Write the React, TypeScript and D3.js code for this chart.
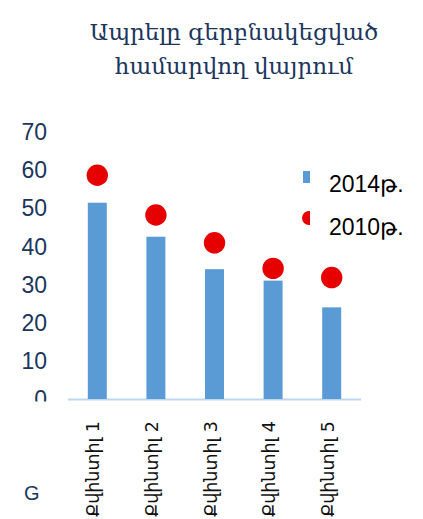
import React from "react";
import * as d3 from "d3";

const titleLines = ["Ապրելը գերբնակեցված", "համարվող վայրում"];
const categories = ["Քվինտիլ 1", "Քվինտիլ 2", "Քվինտիլ 3", "Քվինտիլ 4", "Քվինտիլ 5"];
const values2014 = [51.4, 42.5, 34.0, 31.0, 24.0];
const values2010 = [58.6, 48.2, 40.9, 34.2, 31.8];
const yTicks = [0, 10, 20, 30, 40, 50, 60, 70];
const seriesNames = ["2014թ.", "2010թ."];

const W = 423;
const H = 519;
const NAVY = "#1b365d";
const BLUE = "#5b9bd5";
const RED = "#e60000";

export default function App() {
  const x = d3.scaleBand<string>().domain(categories).range([68, 361]).paddingInner(0.676).paddingOuter(0.338);
  const y = d3.scaleLinear().domain([0, 70]).range([399, 131.7]);
  const bw = x.bandwidth();

  return (
    <svg width={W} height={H} style={{ position: "absolute", left: 0, top: 0, background: "#fff" }}>
      <defs>
        <clipPath id="ylab">
          <rect x={0} y={0} width={70} height={401.5} />
        </clipPath>
        <clipPath id="legclip">
          <rect x={290} y={150} width={20} height={100} />
        </clipPath>
      </defs>
      <rect width={W} height={H} fill="#fff" />
      <g fontFamily="'DejaVu Serif', serif" fill={NAVY} fontSize={23} textAnchor="middle">
        {titleLines.map((t, i) => (
          <text key={i} x={234} y={40 + i * 34}>{t}</text>
        ))}
      </g>
      <g clipPath="url(#ylab)" fontFamily="'Liberation Sans', Arial, sans-serif" fontSize={23} fill={NAVY} textAnchor="end">
        {yTicks.map((t) => (
          <text key={t} x={47} y={y(t)} dy="0.36em">{t}</text>
        ))}
      </g>
      <line x1={68} x2={361} y1={y(0) + 0.5} y2={y(0) + 0.5} stroke="#bdd7ee" strokeWidth={2} />
      {categories.map((c, i) => (
        <rect key={c} x={x(c)!} y={y(values2014[i])} width={bw} height={y(0) - y(values2014[i])} fill={BLUE} />
      ))}
      {categories.map((c, i) => (
        <circle key={c} cx={x(c)! + bw / 2} cy={y(values2010[i])} r={10.7} fill={RED} />
      ))}
      <g fontFamily="'DejaVu Sans', sans-serif" fontSize={17.5} fill="#111" textAnchor="end">
        {categories.map((c) => {
          const cx = x(c)! + bw / 2 - 4;
          return (
            <text key={c} transform={`translate(${cx},421) rotate(-90)`} dy="0.35em">{c}</text>
          );
        })}
      </g>
      <g clipPath="url(#legclip)">
        <rect x={303} y={171} width={12} height={12} fill={BLUE} />
        <circle cx={309} cy={218} r={7} fill={RED} />
      </g>
      <g fontFamily="'Liberation Sans', Arial, sans-serif" fontSize={23} fill="#000">
        {seriesNames.map((s, i) => (
          <text key={s} x={329} y={192 + i * 43}>{s}</text>
        ))}
      </g>
      <text x={24} y={500} fontFamily="'Liberation Sans', Arial, sans-serif" fontSize={20} fill={NAVY}>G</text>
    </svg>
  );
}
